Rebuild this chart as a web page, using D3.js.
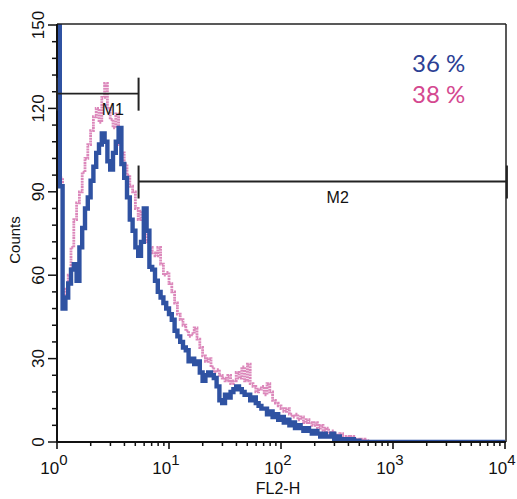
<!DOCTYPE html>
<html><head><meta charset="utf-8">
<script src="https://cdn.jsdelivr.net/npm/d3@7"></script>
<style>html,body{margin:0;padding:0;background:#fff;} svg{display:block}</style>
</head><body><svg id="c" width="517" height="499"></svg>
<script>
// ---- data ----
const binStepDecades = 0.025; // channel width in log10 units
const blueCounts = [160,92,48,52,57,62,64,58,70,77,84,88,94,99,104,107,111,108,101,98,
104,108,113,100,95,88,80,76,70,67,72,84,76,63,62,58,54,52,50,48,
46,44,40,38,36,34,33,29,30,28,29,25,22,24,25,24,23,20,15,14,
17,16,18,19,20,19,18,17,17,15,16,14,13,12,12,10,11,9,10,8,
9,7,8,6,7,5,6,5,4,5,4,3,4,3,2,3,2,2,3,1,
2,1,1,1,0.5,1,0,0.5,0,0,0,0,0,0];
const pinkCounts = [160,95,50,55,60,70,80,86,90,97,102,107,112,117,120,115,124,129,120,116,
113,118,107,104,100,96,92,90,84,80,83,76,72,70,68,67,70,64,60,61,
57,54,50,46,44,42,40,38,39,41,37,34,31,29,30,27,25,26,24,23,
22,24,21,22,25,23,27,22,28,21,20,18,19,20,17,21,18,15,14,13,
12,11,12,10,9,10,8,9,7,8,7,6,7,5,6,4,5,3,4,3,
2,3,2,2,1,2,1,1,0.5,1,0.5,0,0,0];
const yTicks = [0,30,60,90,120,150];
const xDecades = [0,1,2,3,4];
const legendLabels = ["36 %","38 %"];
const markerNames = ["M1","M2"];
const markerFrom = [1, 5.35];
const markerTo = [5.35, 10400];
const markerLevel = [125.3, 93.7];

// ---- drawing ----
const svg = d3.select("#c");
const L = 57, R = 505, T = 25, B = 442;
const x = d3.scaleLog().domain([1,10000]).range([L,R]);
const y = d3.scaleLinear().domain([0,150]).range([B,T]);
const blueCol = "#2f52a2", pinkCol = "#dc88bb";

svg.append("defs").append("clipPath").attr("id","clip")
  .append("rect").attr("x",L).attr("y",T-1).attr("width",R-L+2).attr("height",B-T+1);

function pts(arr){
  const p = arr.map((v,i)=>[Math.pow(10,i*binStepDecades), v]);
  p.push([Math.pow(10,arr.length*binStepDecades),0]);
  p.push([10000,0]);
  return p;
}
const line = d3.line().x(d=>x(d[0])).y(d=>y(Math.min(d[1],155))).curve(d3.curveStepAfter);
const g = svg.append("g").attr("clip-path","url(#clip)");
g.append("path").attr("d",line(pts(pinkCounts))).attr("fill","none")
  .attr("stroke",pinkCol).attr("stroke-width",2.8).attr("stroke-dasharray","2,0.7");
g.append("path").attr("d",line(pts(blueCounts))).attr("fill","none")
  .attr("stroke",blueCol).attr("stroke-width",4.4);

// frame
svg.append("line").attr("x1",L).attr("x2",R+1).attr("y1",T-1).attr("y2",T-1).attr("stroke","#222").attr("stroke-width",1.5);
svg.append("line").attr("x1",R+1).attr("x2",R+1).attr("y1",T-1).attr("y2",B).attr("stroke","#222").attr("stroke-width",1.5);
svg.append("line").attr("x1",L).attr("x2",L).attr("y1",T-1).attr("y2",B+1).attr("stroke","#111").attr("stroke-width",2);
svg.append("line").attr("x1",L-1).attr("x2",R+1).attr("y1",B).attr("y2",B).attr("stroke","#111").attr("stroke-width",2);

// y ticks
const yMinor = d3.range(0,151,6);
svg.append("g").selectAll("line").data(yMinor).join("line")
  .attr("x1",d=> yTicks.includes(d)? L-9 : L-5).attr("x2",L)
  .attr("y1",d=>y(d)).attr("y2",d=>y(d)).attr("stroke","#111").attr("stroke-width",1.5);
svg.append("g").selectAll("text").data(yTicks).join("text")
  .attr("transform",d=>`translate(44,${y(d)}) rotate(-90)`)
  .attr("text-anchor","middle").attr("font-family","Liberation Sans, Arial, sans-serif")
  .attr("font-size",17).attr("fill","#111").text(d=>d);

// x ticks
const xMinor = [];
xDecades.slice(0,-1).forEach(dd=>{ for(let k=2;k<=9;k++) xMinor.push(k*Math.pow(10,dd)); });
svg.append("g").selectAll("line").data(xMinor).join("line")
  .attr("x1",d=>x(d)).attr("x2",d=>x(d)).attr("y1",B).attr("y2",B+4)
  .attr("stroke","#111").attr("stroke-width",1.5);
svg.append("g").selectAll("line").data(xDecades).join("line")
  .attr("x1",d=>x(Math.pow(10,d))).attr("x2",d=>x(Math.pow(10,d))).attr("y1",B).attr("y2",B+7)
  .attr("stroke","#111").attr("stroke-width",1.6);
const xl = svg.append("g").selectAll("text").data(xDecades).join("text")
  .attr("x",d=>x(Math.pow(10,d))-3).attr("y",474).attr("text-anchor","middle")
  .attr("font-family","Liberation Sans, Arial, sans-serif").attr("font-size",17).attr("fill","#111");
xl.append("tspan").text("10");
xl.append("tspan").attr("dy",-9).attr("font-size",15).text(d=>d);

// axis titles
svg.append("text").attr("x",278).attr("y",494).attr("text-anchor","middle")
  .attr("font-family","Liberation Sans, Arial, sans-serif").attr("font-size",16).attr("fill","#111").text("FL2-H");
svg.append("text").attr("transform","translate(20,240) rotate(-90)").attr("text-anchor","middle")
  .attr("font-family","Liberation Sans, Arial, sans-serif").attr("font-size",15).attr("fill","#111").text("Counts");

// markers
markerNames.forEach((name,i)=>{
  const x0 = x(markerFrom[i]), x1 = x(markerTo[i]), yy = y(markerLevel[i]);
  svg.append("line").attr("x1",x0).attr("x2",x1).attr("y1",yy).attr("y2",yy).attr("stroke","#222").attr("stroke-width",1.8);
  [x0,x1].forEach(xx=>{
    svg.append("line").attr("x1",xx).attr("x2",xx).attr("y1",yy-16).attr("y2",yy+17).attr("stroke","#222").attr("stroke-width",2);
  });
  svg.append("text").attr("x",(x0+x1)/2+15).attr("y",yy+21).attr("text-anchor","middle")
    .attr("font-family","Liberation Sans, Arial, sans-serif").attr("font-size",16).attr("fill","#111").text(name);
});

// legend
svg.append("text").attr("x",412).attr("y",72).attr("font-family","Lato, sans-serif").attr("font-size",24)
  .attr("fill","#2c3f94").text(legendLabels[0]);
svg.append("text").attr("x",412).attr("y",103).attr("font-family","Lato, sans-serif").attr("font-size",24)
  .attr("fill","#d4488f").text(legendLabels[1]);
</script></body></html>
